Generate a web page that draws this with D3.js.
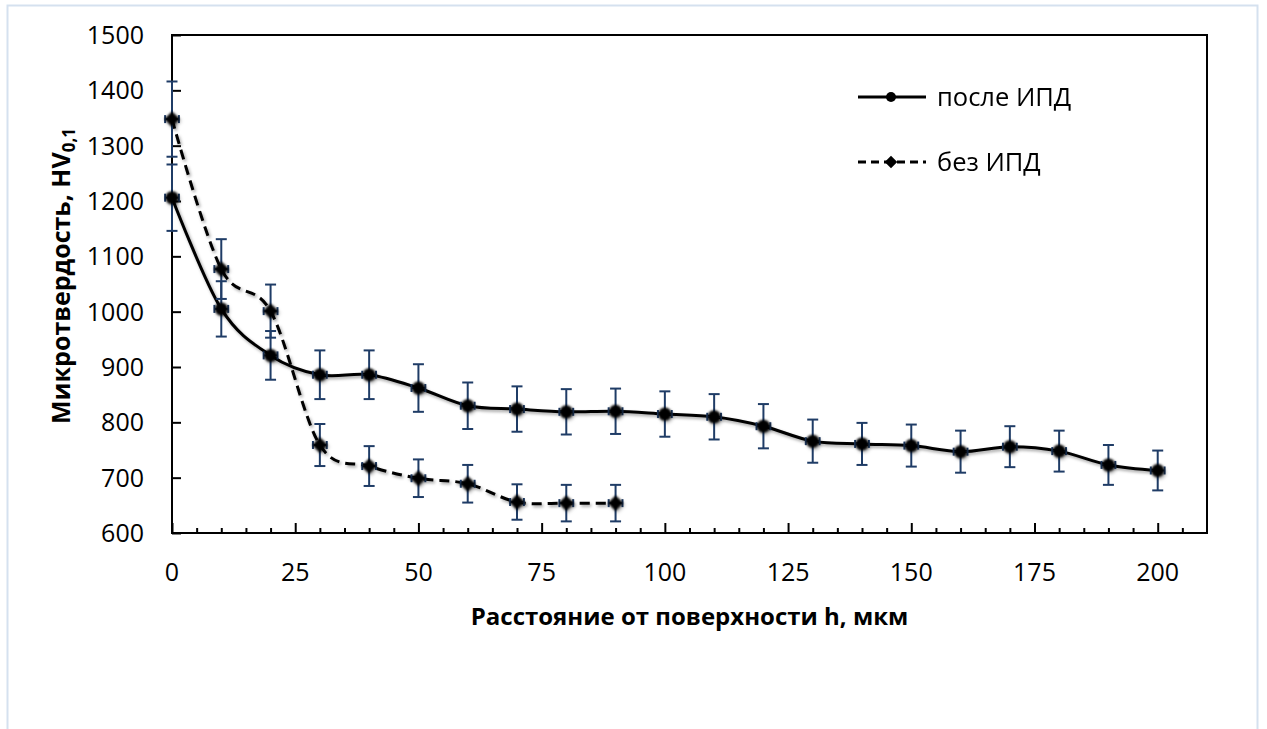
<!DOCTYPE html>
<html>
<head>
<meta charset="utf-8">
<script src="https://cdn.jsdelivr.net/npm/d3@7"></script>
<style>
  html, body { margin: 0; padding: 0; background: #fff; }
  svg { display: block; font-family: "Open Sans", "Noto Sans", sans-serif; }
</style>
</head>
<body>
<svg id="chart" width="1267" height="729"></svg>
<script>
// Microhardness profiles: distance from surface (µm) vs HV0.1
const depthAfter = [0, 10, 20, 30, 40, 50, 60, 70, 80, 90, 100, 110, 120, 130, 140, 150, 160, 170, 180, 190, 200];
const hvAfter    = [1206, 1005, 921, 886, 886, 862, 830, 824, 819, 820, 815, 810, 793, 766, 761, 758, 747, 756, 748, 723, 713];
const errAfter   = [60, 50, 44, 44, 44, 43, 42, 41, 41, 41, 41, 41, 40, 39, 38, 38, 38, 37, 37, 36, 36];

const depthBefore = [0, 10, 20, 30, 40, 50, 60, 70, 80, 90];
const hvBefore    = [1348, 1077, 1001, 759, 721, 699, 689, 656, 654, 654];
const errBefore   = [68, 54, 48, 38, 36, 34, 34, 32, 33, 33];

const xTicks = [0, 25, 50, 75, 100, 125, 150, 175, 200];
const yTicks = [600, 700, 800, 900, 1000, 1100, 1200, 1300, 1400, 1500];
const seriesNames = ["после ИПД", "без ИПД"];

const svg = d3.select("#chart");
const plot = { left: 172, top: 35, right: 1207, bottom: 533 };

const x = d3.scaleLinear().domain([0, 210]).range([plot.left, plot.right]);
const y = d3.scaleLinear().domain([600, 1500]).range([plot.bottom, plot.top]);

const errColor = "#1f3c66";

// soft shadow used by lines and markers
const defs = svg.append("defs");
const f = defs.append("filter").attr("id", "shadow")
  .attr("x", "-50%").attr("y", "-50%").attr("width", "200%").attr("height", "200%");
f.append("feDropShadow").attr("dx", 1.5).attr("dy", 2).attr("stdDeviation", 1.6)
  .attr("flood-color", "#000").attr("flood-opacity", 0.35);
const blur = defs.append("filter").attr("id", "soft")
  .attr("x", "-50%").attr("y", "-50%").attr("width", "200%").attr("height", "200%");
blur.append("feGaussianBlur").attr("stdDeviation", 0.8);

// outer frame
svg.append("rect").attr("x", 7.5).attr("y", 5.5).attr("width", 1250).attr("height", 740)
  .attr("fill", "#fff").attr("stroke", "#d5e1ef").attr("stroke-width", 2);

// plot frame
svg.append("rect").attr("x", plot.left).attr("y", plot.top)
  .attr("width", plot.right - plot.left).attr("height", plot.bottom - plot.top)
  .attr("fill", "none").attr("stroke", "#000").attr("stroke-width", 2);

// y axis (ticks inside)
svg.append("g").attr("transform", `translate(${plot.left},0)`)
  .call(d3.axisRight(y).tickValues(yTicks).tickSize(9).tickFormat(""))
  .call(g => g.select(".domain").remove())
  .call(g => g.selectAll("line").attr("stroke", "#000").attr("stroke-width", 2));

svg.append("g").selectAll("text").data(yTicks).join("text")
  .attr("x", plot.left - 28).attr("y", d => y(d)).attr("dy", "0.36em")
  .attr("text-anchor", "end").attr("font-size", 25).attr("fill", "#000")
  .text(d => d);

// x axis: minor ticks every 5, major every 25, pointing inward
const minorTicks = d3.range(5, 210, 5).filter(v => v % 25 !== 0);
svg.append("g").attr("transform", `translate(0,${plot.bottom})`)
  .call(d3.axisTop(x).tickValues(minorTicks).tickSize(5).tickFormat(""))
  .call(g => g.select(".domain").remove())
  .call(g => g.selectAll("line").attr("stroke", "#000").attr("stroke-width", 2));
svg.append("g").attr("transform", `translate(0,${plot.bottom})`)
  .call(d3.axisTop(x).tickValues(xTicks).tickSize(10).tickFormat(""))
  .call(g => g.select(".domain").remove())
  .call(g => g.selectAll("line").attr("stroke", "#000").attr("stroke-width", 2));

svg.append("g").selectAll("text").data(xTicks).join("text")
  .attr("x", d => x(d)).attr("y", plot.bottom + 48)
  .attr("text-anchor", "middle").attr("font-size", 25).attr("fill", "#000")
  .text(d => d);

// axis titles
svg.append("text").attr("x", (plot.left + plot.right) / 2).attr("y", 625)
  .attr("text-anchor", "middle").attr("font-size", 24).attr("font-weight", "bold")
  .attr("fill", "#000").text("Расстояние от поверхности h, мкм");

const yt = svg.append("text")
  .attr("transform", `translate(70,276) rotate(-90)`)
  .attr("text-anchor", "middle").attr("font-size", 25).attr("font-weight", "bold").attr("fill", "#000");
yt.append("tspan").text("Микротвердость, HV");
yt.append("tspan").attr("font-size", 17).attr("dy", 5).text("0,1");

// series
const after = depthAfter.map((d, i) => ({ x: d, v: hvAfter[i], e: errAfter[i] }));
const before = depthBefore.map((d, i) => ({ x: d, v: hvBefore[i], e: errBefore[i] }));

const line = d3.line().x(d => x(d.x)).y(d => y(d.v)).curve(d3.curveCardinal.tension(0));

const gLines = svg.append("g").attr("filter", "url(#shadow)");
gLines.append("path").datum(before).attr("d", line)
  .attr("fill", "none").attr("stroke", "#000").attr("stroke-width", 3)
  .attr("stroke-dasharray", "10,6");
gLines.append("path").datum(after).attr("d", line)
  .attr("fill", "none").attr("stroke", "#000").attr("stroke-width", 3);

// vertical and small horizontal error bars
function errorBars(data) {
  const g = svg.append("g").attr("stroke", errColor).attr("stroke-width", 2).attr("fill", "none");
  data.forEach(d => {
    const cx = x(d.x), y1 = y(d.v + d.e), y2 = y(d.v - d.e);
    g.append("line").attr("x1", cx).attr("x2", cx).attr("y1", y1).attr("y2", y2);
    g.append("line").attr("x1", cx - 5.5).attr("x2", cx + 5.5).attr("y1", y1).attr("y2", y1);
    g.append("line").attr("x1", cx - 5.5).attr("x2", cx + 5.5).attr("y1", y2).attr("y2", y2);
    const cy = y(d.v), xa = x(d.x - 1.4), xb = x(d.x + 1.4);
    g.append("line").attr("x1", xa).attr("x2", xb).attr("y1", cy).attr("y2", cy);
    g.append("line").attr("x1", xa).attr("x2", xa).attr("y1", cy - 4).attr("y2", cy + 4);
    g.append("line").attr("x1", xb).attr("x2", xb).attr("y1", cy - 4).attr("y2", cy + 4);
  });
}
errorBars(after);
errorBars(before);

// markers
const diamond = d3.symbol().type(d3.symbolDiamond2).size(150);
const gMarks = svg.append("g").attr("filter", "url(#shadow)");
gMarks.append("g").attr("filter", "url(#soft)").selectAll("path").data(before).join("path")
  .attr("transform", d => `translate(${x(d.x)},${y(d.v)})`)
  .attr("d", diamond).attr("fill", "#000");
gMarks.append("g").attr("filter", "url(#soft)").selectAll("circle").data(after).join("circle")
  .attr("cx", d => x(d.x)).attr("cy", d => y(d.v)).attr("r", 6.5).attr("fill", "#000");

// legend
const legend = svg.append("g");
const legItems = [
  { name: seriesNames[0], y: 97, dash: null, marker: "circle" },
  { name: seriesNames[1], y: 162, dash: "8,5", marker: "diamond" }
];
legItems.forEach(it => {
  legend.append("line").attr("x1", 858).attr("x2", 926).attr("y1", it.y).attr("y2", it.y)
    .attr("stroke", "#000").attr("stroke-width", 3).attr("stroke-dasharray", it.dash);
  if (it.marker === "circle") {
    legend.append("circle").attr("cx", 891).attr("cy", it.y).attr("r", 5).attr("fill", "#000");
  } else {
    legend.append("path").attr("transform", `translate(891,${it.y})`)
      .attr("d", d3.symbol().type(d3.symbolDiamond2).size(100)).attr("fill", "#000");
  }
  legend.append("text").attr("x", 937).attr("y", it.y).attr("dy", "0.36em")
    .attr("font-size", 25.5).attr("fill", "#000").text(it.name);
});
</script>
</body>
</html>
